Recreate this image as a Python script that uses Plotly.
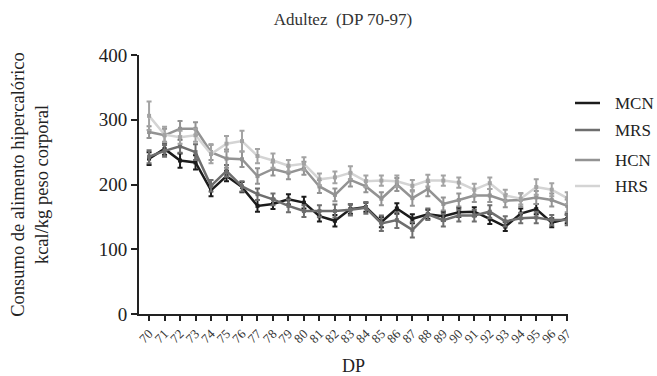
import plotly.graph_objects as go

days = list(range(70, 98))
tick_labels = [str(d) for d in days]

mcn = [240, 255, 237, 234, 191, 213, 196, 167, 170, 177, 172, 151, 144, 162, 165, 142, 163, 147, 154, 151, 157, 158, 147, 135, 155, 162, 141, 147]
mrs = [243, 252, 259, 250, 198, 221, 197, 185, 177, 167, 159, 159, 159, 161, 164, 140, 145, 130, 154, 145, 152, 152, 158, 143, 148, 149, 145, 145]
hcn = [281, 276, 286, 286, 250, 240, 239, 213, 224, 218, 225, 197, 184, 207, 197, 178, 200, 179, 193, 170, 176, 183, 183, 175, 176, 180, 176, 167]
hrs = [306, 277, 273, 276, 247, 263, 267, 244, 237, 229, 232, 208, 211, 218, 205, 206, 205, 198, 206, 206, 203, 192, 202, 183, 178, 196, 192, 179]

mcn_err = [10, 9, 11, 11, 9, 8, 8, 9, 8, 8, 9, 8, 9, 7, 7, 8, 8, 7, 7, 7, 7, 7, 8, 7, 8, 8, 7, 7]
mrs_err = [10, 9, 10, 12, 9, 9, 8, 9, 9, 10, 9, 9, 10, 9, 9, 12, 12, 12, 9, 10, 9, 9, 10, 8, 8, 9, 8, 8]
hcn_err = [9, 10, 12, 10, 12, 14, 12, 12, 10, 10, 10, 10, 10, 10, 9, 10, 10, 12, 11, 10, 10, 10, 10, 10, 10, 10, 10, 10]
hrs_err = [22, 12, 10, 10, 14, 12, 16, 11, 11, 9, 10, 9, 9, 10, 9, 8, 9, 9, 9, 8, 8, 9, 9, 9, 9, 12, 10, 9]

series = [
    ("MCN", mcn, mcn_err, "#1c1c1c", "#1c1c1c"),
    ("MRS", mrs, mrs_err, "#6e6e6e", "#6e6e6e"),
    ("HCN", hcn, hcn_err, "#939393", "#939393"),
    ("HRS", hrs, hrs_err, "#d4d4d4", "#a3a3a3"),
]

SERIF = "Liberation Serif, Times New Roman, serif"

# figure geometry (pixels)
W, H = 657, 376
ML, MR, MT, MB = 139, 89, 55, 62
PW, PH = W - ML - MR, H - MT - MB


def px_x(p):
    return (p - ML) / PW


def px_y(p):
    return (H - MB - p) / PH


fig = go.Figure()
for name, vals, errs, lc, mc in series:
    fig.add_trace(go.Scatter(
        x=days, y=vals, name=name, mode="lines+markers", showlegend=False,
        line=dict(color=lc, width=2.5),
        marker=dict(symbol="square", size=4, color=mc),
        error_y=dict(type="data", array=errs, visible=True, color=mc, thickness=2, width=2.5),
    ))

# manual legend placed like the reference (line sample + label)
legend_rows_px = [103, 130, 160, 186]
for (name, vals, errs, lc, mc), ry in zip(series, legend_rows_px):
    yy = px_y(ry)
    fig.add_shape(type="line", xref="paper", yref="paper",
                  x0=px_x(575), x1=px_x(600), y0=yy, y1=yy,
                  line=dict(color=lc, width=2.5))
    fig.add_annotation(text=name, xref="paper", yref="paper", x=px_x(613), y=yy,
                       xanchor="left", yanchor="middle", showarrow=False,
                       font=dict(family=SERIF, size=17, color="#222222"))

fig.update_layout(
    width=W, height=H,
    margin=dict(l=ML, r=MR, t=MT, b=MB),
    plot_bgcolor="white", paper_bgcolor="white",
    font=dict(family=SERIF, color="#222222"),
    title=dict(text="Adultez  (DP 70-97)", x=0.522, xref="container", xanchor="center",
               y=0.95, yref="container", yanchor="middle",
               font=dict(family=SERIF, size=17, color="#333333")),
    showlegend=False,
    xaxis=dict(
        range=[69.35, 97.05], tickmode="array", tickvals=days, ticktext=tick_labels,
        tickangle=-45, tickfont=dict(family=SERIF, size=13, color="#333333"),
        ticks="outside", ticklen=5, tickwidth=2, tickcolor="#222222", automargin=False,
        showline=True, linecolor="#222222", linewidth=2, showgrid=False, zeroline=False,
        title=dict(text="DP", font=dict(family=SERIF, size=18, color="#222222"), standoff=14),
    ),
    yaxis=dict(
        range=[0, 400], tickvals=[0, 100, 200, 300, 400], automargin=False,
        tickfont=dict(family=SERIF, size=19, color="#222222"),
        ticks="outside", ticklen=6, tickwidth=2, tickcolor="#222222",
        showline=True, linecolor="#222222", linewidth=2, showgrid=False, zeroline=False,
        title=dict(text="Consumo de alimento hipercalórico<br>kcal/kg peso corporal",
                   font=dict(family=SERIF, size=18.5, color="#222222"), standoff=45),
    ),
)

fig.write_html("out.html", config={"displayModeBar": False},
               post_script="document.body.style.margin='0px';document.body.style.overflow='hidden';")
